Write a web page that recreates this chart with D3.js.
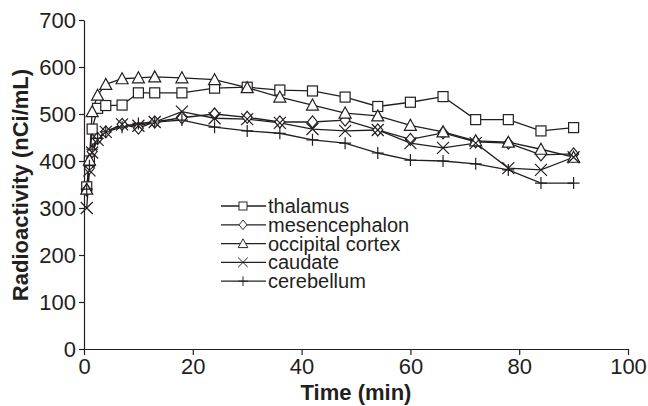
<!DOCTYPE html>
<html>
<head>
  <meta charset="utf-8">
  <title>Radioactivity</title>
  <style>
  body { margin: 0; background: #fff; }
  text { font-family: "Liberation Sans", Arial, sans-serif; fill: #231f20; }
  .axis path, .axis line { stroke: #231f20; stroke-width: 1.2; }
  .axis text { font-size: 22px; }
  .series { fill: none; stroke: #231f20; stroke-width: 1.3; }
  .mark { fill: #fff; stroke: #231f20; stroke-width: 1.2; }
  </style>
</head>
<body>
  <svg width="648" height="406"></svg>
  <script src="https://d3js.org/d3.v7.min.js"></script>
  <script>
  // time points (min)
  var times = [0.5, 1, 1.5, 2.5, 4, 7, 10, 13, 18, 24, 30, 36, 42, 48, 54, 60, 66, 72, 78, 84, 90];

  var thalamus      = [345, 400, 468, 512, 518, 519, 545, 545, 545, 555, 557, 551, 549, 536, 516, 525, 537, 488, 488, 464, 471];
  var mesencephalon = [338, 385, 420, 448, 462, 478, 470, 483, 492, 500, 493, 483, 483, 487, 466, 446, 460, 441, 438, 413, 415];
  var occipital     = [340, 402, 505, 540, 563, 575, 577, 579, 577, 573, 556, 536, 519, 502, 496, 476, 462, 443, 440, 425, 408];
  var caudate       = [300, 380, 418, 445, 462, 478, 475, 483, 505, 491, 489, 481, 468, 464, 466, 438, 428, 438, 385, 381, 408];
  var cerebellum    = [340, 390, 425, 448, 462, 472, 480, 483, 487, 472, 464, 459, 445, 438, 417, 402, 400, 394, 381, 353, 353];

  var names = ["thalamus", "mesencephalon", "occipital cortex", "caudate", "cerebellum"];
  var shapes = ["square", "diamond", "triangle", "cross", "plus"];
  var xTicks = [0, 20, 40, 60, 80, 100];
  var yTicks = [0, 100, 200, 300, 400, 500, 600, 700];

  var series = [thalamus, mesencephalon, occipital, caudate, cerebellum].map(function(vals, i) {
    return { name: names[i], shape: shapes[i], values: vals.map(function(v, j) { return { t: times[j], v: v }; }) };
  });

  var svg = d3.select("svg"),
      margin = {top: 20, right: 20, bottom: 57, left: 84},
      g = svg.append("g").attr("transform", "translate(" + margin.left + "," + margin.top + ")");

  var x = d3.scaleLinear().domain([0, 100]).range([0, 544]);
  var y = d3.scaleLinear().domain([0, 700]).range([329, 0]);

  g.append("g")
    .attr("class", "axis")
    .attr("transform", "translate(0," + y(0) + ")")
    .call(d3.axisBottom(x).tickValues(xTicks).tickSizeInner(6).tickSizeOuter(0).tickPadding(3));

  g.append("g")
    .attr("class", "axis")
    .call(d3.axisLeft(y).tickValues(yTicks).tickSizeInner(5).tickSizeOuter(0).tickPadding(3));

  svg.append("text")
    .attr("transform", "translate(28," + (margin.top + 165) + ") rotate(-90)")
    .attr("text-anchor", "middle")
    .style("font-size", "22px")
    .style("font-weight", "bold")
    .text("Radioactivity (nCi/mL)");

  svg.append("text")
    .attr("x", margin.left + x(50))
    .attr("y", 400)
    .attr("text-anchor", "middle")
    .style("font-size", "22px")
    .style("font-weight", "bold")
    .text("Time (min)");

  // marker drawing
  function marker(sel, shape) {
    var s = 5;
    if (shape === "square") {
      sel.append("rect").attr("class", "mark").attr("x", -s).attr("y", -s).attr("width", 2 * s).attr("height", 2 * s);
    } else if (shape === "diamond") {
      sel.append("path").attr("class", "mark").attr("d", "M0,-6L5,0L0,6L-5,0Z");
    } else if (shape === "triangle") {
      sel.append("path").attr("class", "mark").attr("d", "M0,-6L6,5L-6,5Z");
    } else if (shape === "cross") {
      sel.append("path").attr("class", "mark").attr("d", "M-6,-6L6,6M-6,6L6,-6");
    } else {
      sel.append("path").attr("class", "mark").attr("d", "M-6,0L6,0M0,-6L0,6");
    }
  }

  var line = d3.line()
    .x(function(d) { return x(d.t); })
    .y(function(d) { return y(d.v); });

  series.forEach(function(s) {
    g.append("path").datum(s.values).attr("class", "series").attr("d", line);
  });
  series.forEach(function(s) {
    g.selectAll(null)
      .data(s.values)
      .enter().append("g")
      .attr("transform", function(d) { return "translate(" + x(d.t) + "," + y(d.v) + ")"; })
      .each(function() { marker(d3.select(this), s.shape); });
  });

  // legend
  var legend = svg.append("g").attr("transform", "translate(221,206)");
  series.forEach(function(s, i) {
    var row = legend.append("g").attr("transform", "translate(0," + i * 18.8 + ")");
    row.append("line").attr("x1", 0).attr("x2", 45).attr("stroke", "#231f20").attr("stroke-width", 1.3);
    var m = row.append("g").attr("transform", "translate(22,0) scale(0.8)");
    marker(m, s.shape);
    row.append("text").attr("x", 47).attr("y", 7).style("font-size", "20px").text(s.name);
  });
  </script>
</body>
</html>
